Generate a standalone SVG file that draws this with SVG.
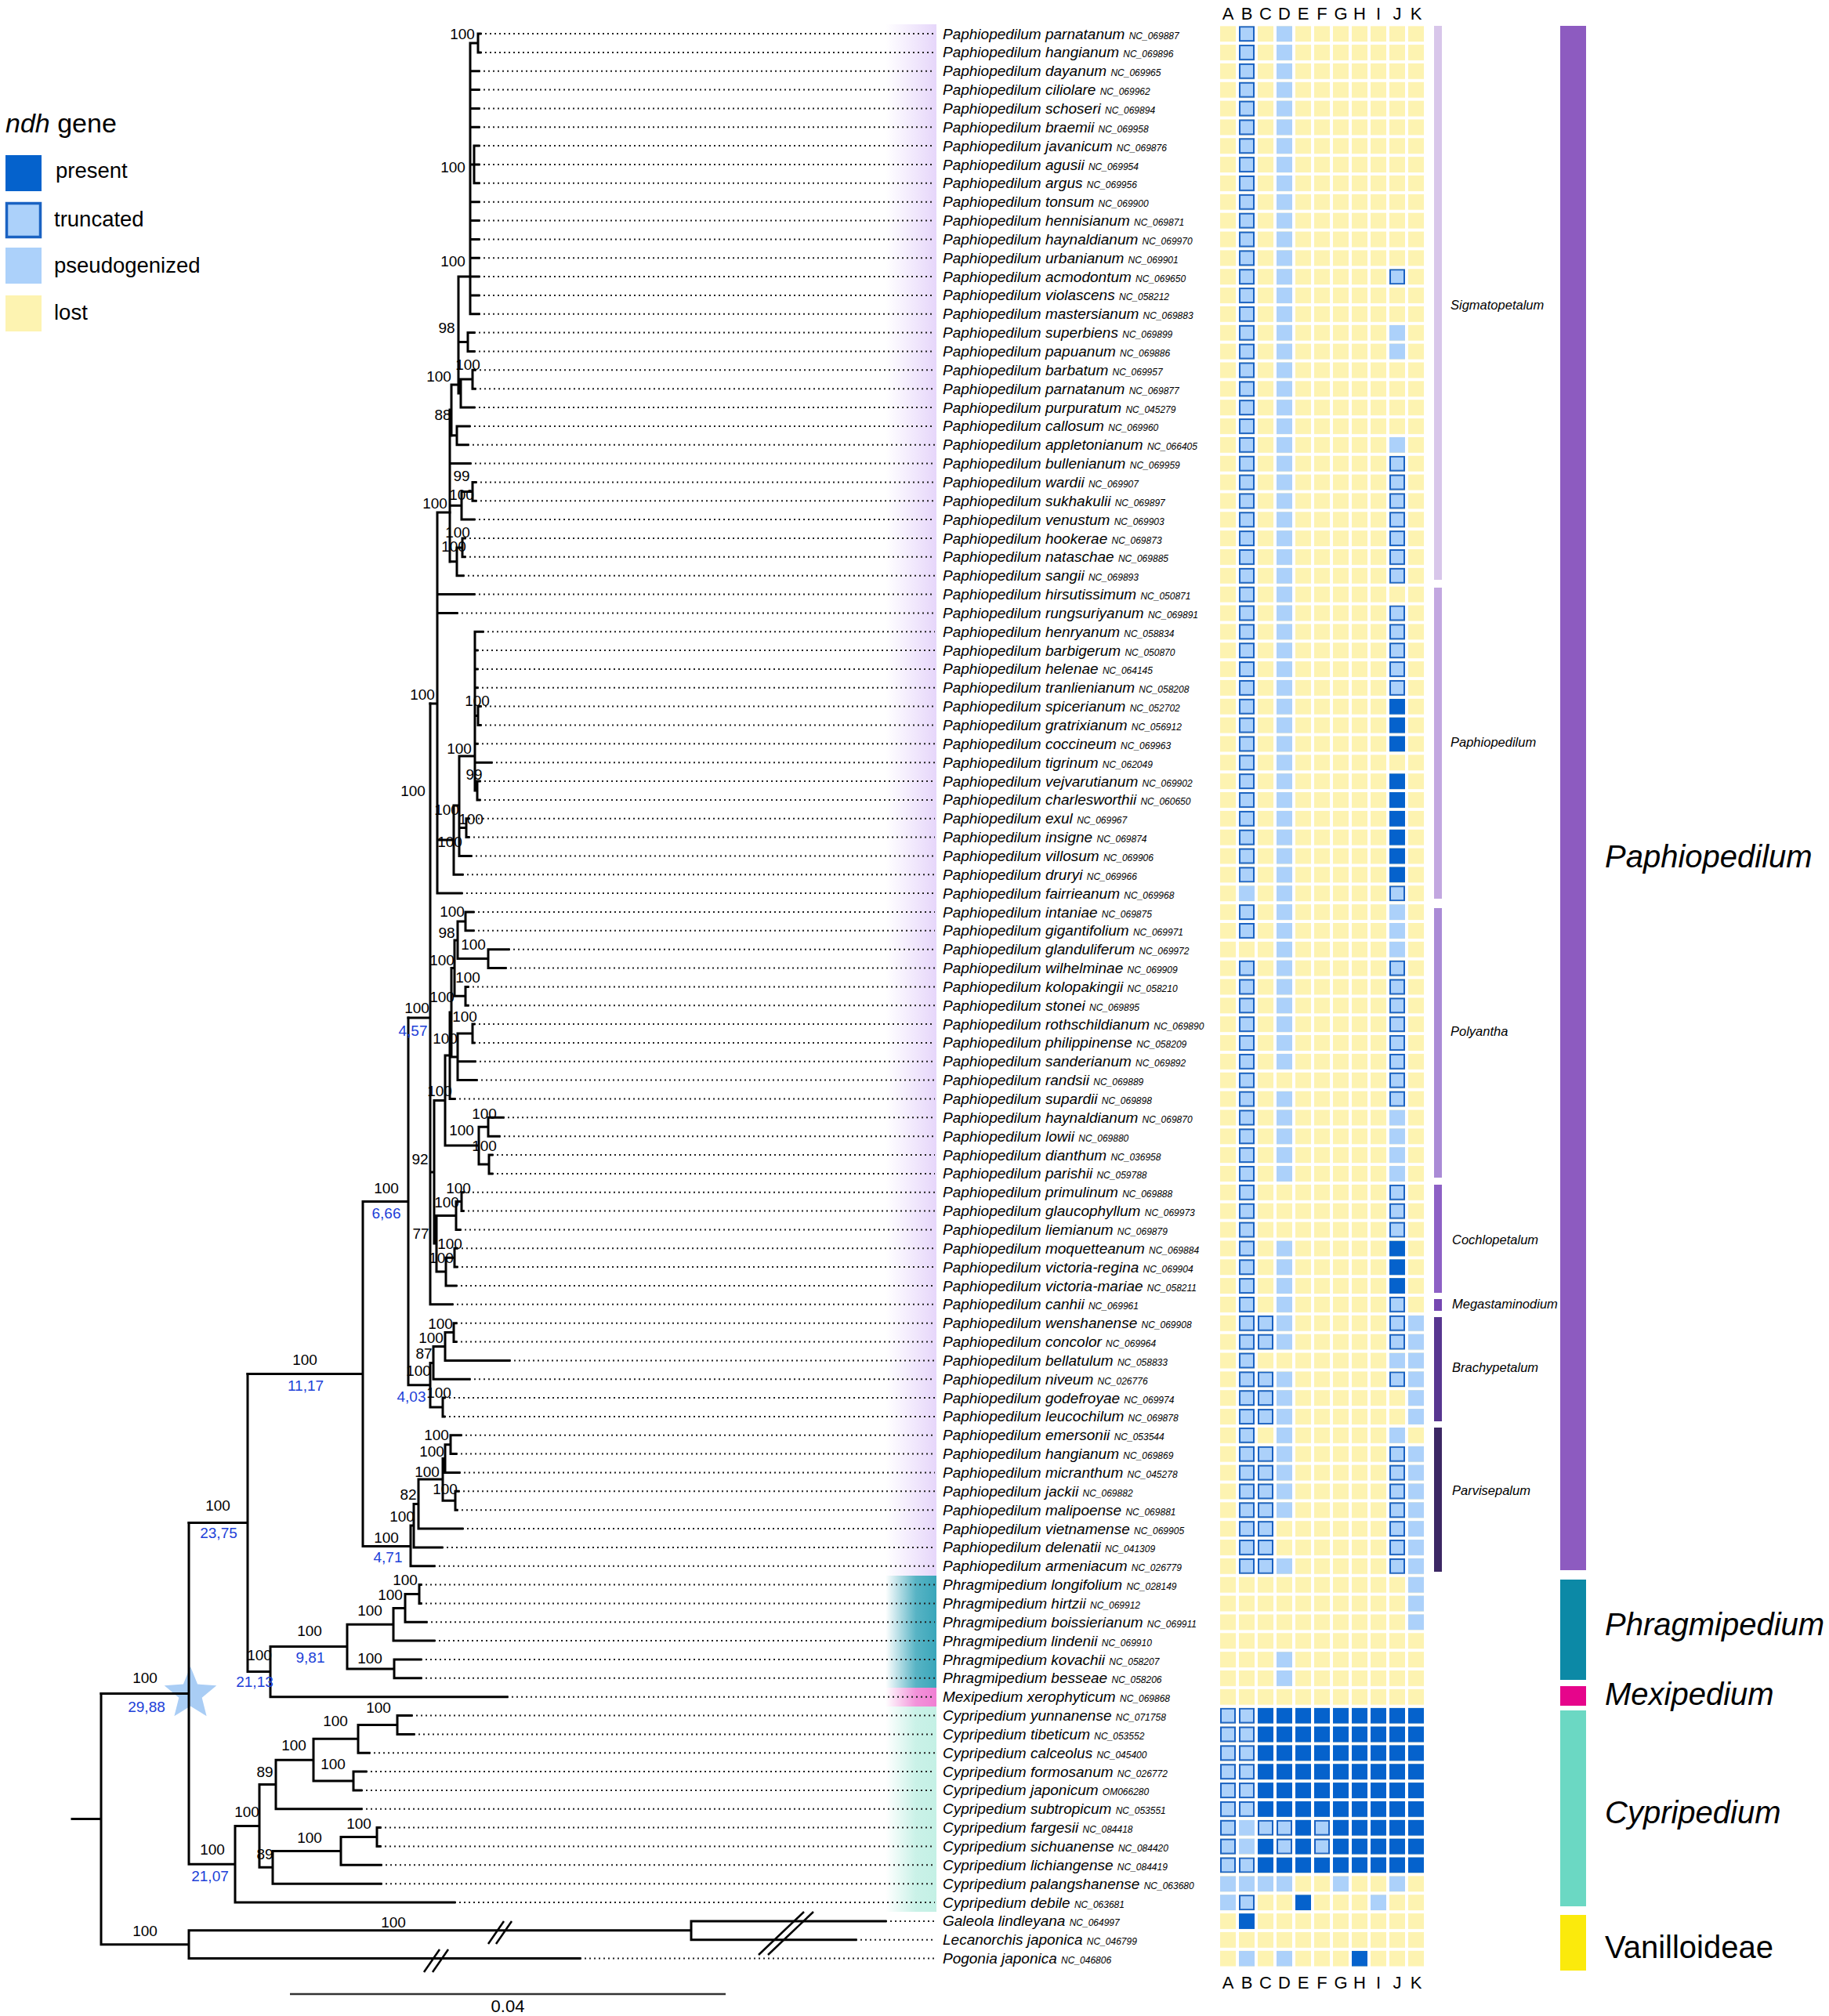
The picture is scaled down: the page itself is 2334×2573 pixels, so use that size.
<svg xmlns="http://www.w3.org/2000/svg" width="2334" height="2573" viewBox="0 0 2334 2573">
<style>
text{font-family:"Liberation Sans",Arial,sans-serif;fill:#000}
.br{fill:none;stroke:#000;stroke-width:3;stroke-linecap:square}
.dt{fill:none;stroke:#222;stroke-width:2;stroke-dasharray:2 4}
.bk{fill:none;stroke:#000;stroke-width:2.5}
.tx{font-size:19px;font-style:italic}
.ac{font-size:12px}
.bs{font-size:19px;text-anchor:middle;fill:#000}
.bl{fill:#2040d8}
.hd{font-size:22px;text-anchor:middle}
.sc{font-size:16.5px;font-style:italic}
.gn{font-size:40px;font-style:italic}
.lg{font-size:27.5px}
</style>
<defs>
<pattern id="pY" x="1557" y="33.2" width="24" height="23.85" patternUnits="userSpaceOnUse"><rect width="20" height="20" fill="#fdf3b1"/></pattern>
<pattern id="pP" x="1557" y="33.2" width="24" height="23.85" patternUnits="userSpaceOnUse"><rect width="20" height="20" fill="#acd1fa"/></pattern>
<pattern id="pD" x="1557" y="33.2" width="24" height="23.85" patternUnits="userSpaceOnUse"><rect width="20" height="20" fill="#0562cc"/></pattern>
<pattern id="pT" x="1557" y="33.2" width="24" height="23.85" patternUnits="userSpaceOnUse"><rect x="1" y="1" width="18" height="18" fill="#acd1fa" stroke="#1a62c2" stroke-width="2"/></pattern>
<linearGradient id="gPa" x1="0" y1="0" x2="1" y2="0"><stop offset="0" stop-color="#e6d6fa" stop-opacity="0"/><stop offset="1" stop-color="#e6d6fa"/></linearGradient>
<linearGradient id="gPh" x1="0" y1="0" x2="1" y2="0"><stop offset="0" stop-color="#3aa6ba" stop-opacity="0"/><stop offset="0.6" stop-color="#3aa6ba" stop-opacity="0.85"/><stop offset="1" stop-color="#3aa6ba"/></linearGradient>
<linearGradient id="gMe" x1="0" y1="0" x2="1" y2="0"><stop offset="0" stop-color="#f07fd3" stop-opacity="0"/><stop offset="0.6" stop-color="#f07fd3" stop-opacity="0.85"/><stop offset="1" stop-color="#f07fd3"/></linearGradient>
<linearGradient id="gCy" x1="0" y1="0" x2="1" y2="0"><stop offset="0" stop-color="#c4f0e5" stop-opacity="0"/><stop offset="0.6" stop-color="#c4f0e5" stop-opacity="0.9"/><stop offset="1" stop-color="#c4f0e5"/></linearGradient>
</defs>
<rect width="2334" height="2573" fill="#fff"/>

<g id="legend">
<text x="7" y="169" style="font-size:34px"><tspan font-style="italic">ndh</tspan> gene</text>
<rect x="7" y="198" width="46" height="46" fill="#0562cc"/>
<rect x="8.5" y="259.5" width="43" height="43" fill="#acd1fa" stroke="#1a62c2" stroke-width="3.5"/>
<rect x="7" y="316" width="46" height="46" fill="#acd1fa"/>
<rect x="7" y="377" width="46" height="46" fill="#fdf3b1"/>
<text class="lg" x="71" y="227">present</text>
<text class="lg" x="69" y="289">truncated</text>
<text class="lg" x="69" y="348">pseudogenized</text>
<text class="lg" x="69" y="408">lost</text>
</g>

<g id="bands">
<rect x="1130" y="31" width="65" height="1980" fill="url(#gPa)"/>
<rect x="1130" y="2011" width="65" height="143" fill="url(#gPh)"/>
<rect x="1130" y="2154" width="65" height="24" fill="url(#gMe)"/>
<rect x="1130" y="2178" width="65" height="262" fill="url(#gCy)"/>
</g>

<polygon id="star" points="243,2127 252.1,2149.5 276.3,2151.2 257.7,2166.8 263.6,2190.3 243,2177.5 222.4,2190.3 228.3,2166.8 209.7,2151.2 233.9,2149.5" fill="#a9cdf5"/>

<g id="connectors">
<path class="dt" d="M613 43H1193M613 66.9H1193M611 90.7H1193M611 114.6H1193M611 138.4H1193M611 162.3H1193M611 186.1H1193M611 210H1193M611 233.8H1193M611 257.7H1193M611 281.5H1193M611 305.4H1193M611 329.2H1193M611 353.1H1193M611 376.9H1193M611 400.8H1193M605 424.6H1193M605 448.5H1193M606 472.3H1193M606 496.2H1193M605 520H1193M599 543.9H1193M597 567.7H1193M600 591.6H1193M607 615.4H1193M607 639.3H1193M605 663.1H1193M593 687H1193M593 710.8H1193M591 734.7H1193M605 758.5H1193M583 782.4H1193M616 806.2H1193M609 830.1H1193M609 853.9H1193M609 877.8H1193M613 901.6H1193M613 925.5H1193M609 949.3H1193M627 973.2H1193M612 997H1193M612 1020.9H1193M598 1044.7H1193M598 1068.6H1193M601 1092.4H1193M590 1116.3H1193M589 1140.1H1193M604 1164H1193M604 1187.8H1193M649 1211.7H1193M645 1235.5H1193M597 1259.4H1193M597 1283.2H1193M605 1307.1H1193M605 1330.9H1193M606 1354.8H1193M608 1378.6H1193M580 1402.5H1193M642 1426.3H1193M637 1450.2H1193M628 1474H1193M628 1497.9H1193M591 1521.7H1193M591 1545.6H1193M587 1569.4H1193M583 1593.3H1193M583 1617.1H1193M582 1641H1193M577 1664.8H1193M582 1688.7H1193M582 1712.5H1193M650 1736.4H1193M599 1760.2H1193M567 1784.1H1193M567 1807.9H1193M588 1831.8H1193M582 1855.6H1193M586 1879.5H1193M585 1903.3H1193M583 1927.2H1193M590 1951H1193M564 1974.9H1193M554 1998.7H1193M537 2022.6H1193M537 2046.4H1193M544 2070.3H1193M554 2094.1H1193M537 2118H1193M537 2141.8H1193M647 2165.7H1193M525 2189.5H1193M528 2213.4H1193M471 2237.2H1193M467 2261.1H1193M461 2284.9H1193M461 2308.8H1193M485 2332.6H1193M485 2356.5H1193M486 2380.3H1193M486 2404.2H1193M580 2428H1193M1130 2451.9H1193M1092 2475.7H1193M740 2499.6H1193"/>
<path id="sigmatopetalum-branches" class="br" d="M610 43V66.9M610 43H613M610 66.9H613M600 55H610M600 55V400.8M600 90.7H611M600 114.6H611M600 138.4H611M600 162.3H611M600 210H605M600 257.7H611M600 281.5H611M600 305.4H611M600 329.2H611M600 353.1H611M600 376.9H611M600 400.8H611M605 186.1V233.8M605 186.1H611M605 210H611M605 233.8H611M585 353H600M585 353V502M585 436.5H597M585 502H588M597 424.6V448.5M597 424.6H605M597 448.5H605M588 484V520M588 484H603M588 520H605M603 472.3V496.2M603 472.3H606M603 496.2H606M576 491V556M576 491H585M576 555.8H583M583 543.9V567.7M583 543.9H599M583 567.7H597M574 523V717M574 523H576M574 591.6H600M574 645.2H589M574 716.8H583M589 627.4V663.1M589 627.4H603M589 663.1H605M603 615.4V639.3M603 615.4H607M603 639.3H607M583 698.9V734.7M583 698.9H590M583 734.7H591M590 687V710.8M590 687H593M590 710.8H593"/>
<path id="paphiopedilum-section-branches" class="br" d="M558 654V1140.1M558 654H574M558 758.5H605M558 782.4H583M558 1072H579M558 1140.1H589M549 898H558M606 806.2V1009M606 806.2H616M606 830.1H609M606 853.9H609M606 877.8H609M606 913.6H610M606 949.3H609M606 973.2H627M606 1009H609M586 965H606M610 901.6V925.5M610 901.6H613M610 925.5H613M609 997V1020.9M609 997H612M609 1020.9H612M586 965V1092.4M586 1056.6H595M586 1092.4H601M595 1044.7V1068.6M595 1044.7H598M595 1068.6H598M579 1028V1116.3M579 1028H586M579 1116.3H590"/>
<path id="polyantha-cochlopetalum-branches" class="br" d="M549 898V1664.8M549 1496H554M549 1664.8H577M521 1299H549M554 1404.5V1587M554 1404.5H568M554 1587H557M568 1347V1462M568 1347H574M568 1462H611M574 1292V1402.5M574 1292H576M574 1402.5H580M576 1235.6V1349M576 1235.6H580M576 1349H584M580 1200V1271.3M580 1200H584M580 1271.3H594M584 1176V1223.6M584 1176H594M584 1223.6H623M594 1164V1187.8M594 1164H604M594 1187.8H604M623 1211.7V1235.5M623 1211.7H649M623 1235.5H645M594 1259.4V1283.2M594 1259.4H597M594 1283.2H597M584 1319V1378.6M584 1319H603M584 1354.8H606M584 1378.6H608M603 1307.1V1330.9M603 1307.1H605M603 1330.9H605M611 1438.2V1486M611 1438.2H623M611 1486H624M623 1426.3V1450.2M623 1426.3H642M623 1450.2H637M624 1474V1497.9M624 1474H628M624 1497.9H628M557 1551.5V1623M557 1551.5H582M557 1623H569M582 1533.6V1569.4M582 1533.6H589M582 1569.4H587M589 1521.7V1545.6M589 1521.7H591M589 1545.6H591M569 1605.2V1641M569 1605.2H580M569 1641H582M580 1593.3V1617.1M580 1593.3H583M580 1617.1H583"/>
<path id="brachypetalum-parvisepalum-branches" class="br" d="M521 1299V1767.7M521 1767.7H549M463 1533.5H521M549 1739.4V1796M549 1739.4H553M549 1796H565M553 1718.5V1760.2M553 1718.5H568M553 1760.2H599M568 1700.6V1736.4M568 1700.6H579M568 1736.4H650M579 1688.7V1712.5M579 1688.7H582M579 1712.5H582M565 1784.1V1807.9M565 1784.1H567M565 1807.9H567M463 1533.5V1973.4M463 1973.4H524M316 1753.5H463M524 1947V1998.7M524 1947H528M524 1998.7H554M528 1919.5V1974.9M528 1919.5H534M528 1974.9H564M534 1888V1951M534 1888H565M534 1951H590M565 1861.6V1915.3M565 1861.6H568M565 1915.3H581M568 1843.7V1879.5M568 1843.7H575M568 1879.5H586M575 1831.8V1855.6M575 1831.8H588M575 1855.6H582M581 1903.3V1927.2M581 1903.3H585M581 1927.2H583"/>
<path id="phragmipedium-mexipedium-branches" class="br" d="M316 1753.5V2133.6M316 2133.6H345M241 1943.6H316M345 2101.6V2165.7M345 2101.6H443M345 2165.7H647M443 2073.3V2129.9M443 2073.3H502M443 2129.9H503M502 2052.4V2094.1M502 2052.4H517M502 2094.1H554M517 2034.5V2070.3M517 2034.5H535M517 2070.3H544M535 2022.6V2046.4M535 2022.6H537M535 2046.4H537M503 2118V2141.8M503 2118H537M503 2141.8H537"/>
<path id="cypripedium-branches" class="br" d="M241 1943.6V2379.2M241 2379.2H300M129 2161.4H241M300 2330.4V2428M300 2330.4H331M300 2428H580M331 2277.5V2383.3M331 2277.5H352M331 2383.3H348M352 2246.2V2308.8M352 2246.2H400M352 2308.8H461M400 2219.3V2273M400 2219.3H457M400 2273H451M457 2201.5V2237.2M457 2201.5H507M457 2237.2H471M507 2189.5V2213.4M507 2189.5H525M507 2213.4H528M451 2261.1V2284.9M451 2261.1H467M451 2284.9H461M348 2362.4V2404.2M348 2362.4H435M348 2404.2H486M435 2344.6V2380.3M435 2344.6H481M435 2380.3H486M481 2332.6V2356.5M481 2332.6H485M481 2356.5H485"/>
<path id="root-outgroup-branches" class="br" d="M129 2161.4V2481.7M92 2321.6H129M129 2481.7H241M241 2463.8V2499.6M241 2463.8H882M241 2499.6H740M882 2451.9V2475.7M882 2451.9H1130M882 2475.7H1092"/>
<path id="breaks" class="bk" d="M623 2481L643 2452M633 2481L653 2452M541 2517L561 2488M552 2517L572 2488M968 2495L1026 2440M980 2495L1038 2440"/>
</g>

<g id="support">
<text class="bs" x="590" y="50">100</text>
<text class="bs" x="578" y="220">100</text>
<text class="bs" x="578" y="340">100</text>
<text class="bs" x="570" y="425">98</text>
<text class="bs" x="560" y="487">100</text>
<text class="bs" x="597" y="472">100</text>
<text class="bs" x="565" y="536">88</text>
<text class="bs" x="589" y="614">99</text>
<text class="bs" x="589" y="638">100</text>
<text class="bs" x="555" y="649">100</text>
<text class="bs" x="584" y="686">100</text>
<text class="bs" x="579" y="704">100</text>
<text class="bs" x="539" y="893">100</text>
<text class="bs" x="609" y="901">100</text>
<text class="bs" x="586" y="962">100</text>
<text class="bs" x="605" y="995">99</text>
<text class="bs" x="527" y="1016">100</text>
<text class="bs" x="570" y="1040">100</text>
<text class="bs" x="601" y="1052">100</text>
<text class="bs" x="574" y="1081">100</text>
<text class="bs" x="577" y="1170">100</text>
<text class="bs" x="570" y="1197">98</text>
<text class="bs" x="604" y="1212">100</text>
<text class="bs" x="564" y="1232">100</text>
<text class="bs" x="597" y="1254">100</text>
<text class="bs" x="564" y="1279">100</text>
<text class="bs" x="593" y="1304">100</text>
<text class="bs" x="532" y="1293">100</text>
<text class="bs bl" x="527" y="1322">4,57</text>
<text class="bs" x="568" y="1332">100</text>
<text class="bs" x="561" y="1399">100</text>
<text class="bs" x="618" y="1428">100</text>
<text class="bs" x="589" y="1449">100</text>
<text class="bs" x="618" y="1469">100</text>
<text class="bs" x="536" y="1486">92</text>
<text class="bs" x="493" y="1523">100</text>
<text class="bs bl" x="493" y="1555">6,66</text>
<text class="bs" x="585" y="1523">100</text>
<text class="bs" x="570" y="1541">100</text>
<text class="bs" x="537" y="1581">77</text>
<text class="bs" x="574" y="1594">100</text>
<text class="bs" x="563" y="1612">100</text>
<text class="bs" x="562" y="1696">100</text>
<text class="bs" x="550" y="1714">100</text>
<text class="bs" x="541" y="1734">87</text>
<text class="bs" x="534" y="1756">100</text>
<text class="bs bl" x="525" y="1789">4,03</text>
<text class="bs" x="560" y="1784">100</text>
<text class="bs" x="389" y="1742">100</text>
<text class="bs bl" x="390" y="1775">11,17</text>
<text class="bs" x="557" y="1838">100</text>
<text class="bs" x="551" y="1859">100</text>
<text class="bs" x="545" y="1885">100</text>
<text class="bs" x="568" y="1907">100</text>
<text class="bs" x="521" y="1914">82</text>
<text class="bs" x="513" y="1942">100</text>
<text class="bs" x="493" y="1969">100</text>
<text class="bs bl" x="495" y="1994">4,71</text>
<text class="bs" x="517" y="2023">100</text>
<text class="bs" x="498" y="2042">100</text>
<text class="bs" x="472" y="2062">100</text>
<text class="bs" x="472" y="2123">100</text>
<text class="bs" x="395" y="2088">100</text>
<text class="bs bl" x="396" y="2122">9,81</text>
<text class="bs" x="331" y="2119">100</text>
<text class="bs bl" x="325" y="2153">21,13</text>
<text class="bs" x="278" y="1928">100</text>
<text class="bs bl" x="279" y="1963">23,75</text>
<text class="bs" x="185" y="2148">100</text>
<text class="bs bl" x="187" y="2185">29,88</text>
<text class="bs" x="483" y="2186">100</text>
<text class="bs" x="428" y="2203">100</text>
<text class="bs" x="425" y="2258">100</text>
<text class="bs" x="375" y="2234">100</text>
<text class="bs" x="338" y="2268">89</text>
<text class="bs" x="458" y="2334">100</text>
<text class="bs" x="395" y="2352">100</text>
<text class="bs" x="338" y="2373">89</text>
<text class="bs" x="315" y="2319">100</text>
<text class="bs" x="271" y="2367">100</text>
<text class="bs bl" x="268" y="2401">21,07</text>
<text class="bs" x="185" y="2471">100</text>
<text class="bs" x="502" y="2460">100</text>
</g>

<g id="scalebar">
<path d="M370 2545H926" stroke="#333" stroke-width="2.5"/>
<text x="648" y="2568" style="font-size:22px" text-anchor="middle">0.04</text>
</g>

<g id="taxa">
<text id="t1" class="tx" x="1203" y="49.5">Paphiopedilum parnatanum <tspan class="ac">NC_069887</tspan></text>
<text id="t2" class="tx" x="1203" y="73.4">Paphiopedilum hangianum <tspan class="ac">NC_069896</tspan></text>
<text id="t3" class="tx" x="1203" y="97.2">Paphiopedilum dayanum <tspan class="ac">NC_069965</tspan></text>
<text id="t4" class="tx" x="1203" y="121.1">Paphiopedilum ciliolare <tspan class="ac">NC_069962</tspan></text>
<text id="t5" class="tx" x="1203" y="144.9">Paphiopedilum schoseri <tspan class="ac">NC_069894</tspan></text>
<text id="t6" class="tx" x="1203" y="168.8">Paphiopedilum braemii <tspan class="ac">NC_069958</tspan></text>
<text id="t7" class="tx" x="1203" y="192.6">Paphiopedilum javanicum <tspan class="ac">NC_069876</tspan></text>
<text id="t8" class="tx" x="1203" y="216.5">Paphiopedilum agusii <tspan class="ac">NC_069954</tspan></text>
<text id="t9" class="tx" x="1203" y="240.3">Paphiopedilum argus <tspan class="ac">NC_069956</tspan></text>
<text id="t10" class="tx" x="1203" y="264.2">Paphiopedilum tonsum <tspan class="ac">NC_069900</tspan></text>
<text id="t11" class="tx" x="1203" y="288">Paphiopedilum hennisianum <tspan class="ac">NC_069871</tspan></text>
<text id="t12" class="tx" x="1203" y="311.9">Paphiopedilum haynaldianum <tspan class="ac">NC_069970</tspan></text>
<text id="t13" class="tx" x="1203" y="335.7">Paphiopedilum urbanianum <tspan class="ac">NC_069901</tspan></text>
<text id="t14" class="tx" x="1203" y="359.6">Paphiopedilum acmodontum <tspan class="ac">NC_069650</tspan></text>
<text id="t15" class="tx" x="1203" y="383.4">Paphiopedilum violascens <tspan class="ac">NC_058212</tspan></text>
<text id="t16" class="tx" x="1203" y="407.3">Paphiopedilum mastersianum <tspan class="ac">NC_069883</tspan></text>
<text id="t17" class="tx" x="1203" y="431.1">Paphiopedilum superbiens <tspan class="ac">NC_069899</tspan></text>
<text id="t18" class="tx" x="1203" y="455">Paphiopedilum papuanum <tspan class="ac">NC_069886</tspan></text>
<text id="t19" class="tx" x="1203" y="478.8">Paphiopedilum barbatum <tspan class="ac">NC_069957</tspan></text>
<text id="t20" class="tx" x="1203" y="502.7">Paphiopedilum parnatanum <tspan class="ac">NC_069877</tspan></text>
<text id="t21" class="tx" x="1203" y="526.5">Paphiopedilum purpuratum <tspan class="ac">NC_045279</tspan></text>
<text id="t22" class="tx" x="1203" y="550.4">Paphiopedilum callosum <tspan class="ac">NC_069960</tspan></text>
<text id="t23" class="tx" x="1203" y="574.2">Paphiopedilum appletonianum <tspan class="ac">NC_066405</tspan></text>
<text id="t24" class="tx" x="1203" y="598.1">Paphiopedilum bullenianum <tspan class="ac">NC_069959</tspan></text>
<text id="t25" class="tx" x="1203" y="621.9">Paphiopedilum wardii <tspan class="ac">NC_069907</tspan></text>
<text id="t26" class="tx" x="1203" y="645.8">Paphiopedilum sukhakulii <tspan class="ac">NC_069897</tspan></text>
<text id="t27" class="tx" x="1203" y="669.6">Paphiopedilum venustum <tspan class="ac">NC_069903</tspan></text>
<text id="t28" class="tx" x="1203" y="693.5">Paphiopedilum hookerae <tspan class="ac">NC_069873</tspan></text>
<text id="t29" class="tx" x="1203" y="717.3">Paphiopedilum nataschae <tspan class="ac">NC_069885</tspan></text>
<text id="t30" class="tx" x="1203" y="741.2">Paphiopedilum sangii <tspan class="ac">NC_069893</tspan></text>
<text id="t31" class="tx" x="1203" y="765">Paphiopedilum hirsutissimum <tspan class="ac">NC_050871</tspan></text>
<text id="t32" class="tx" x="1203" y="788.9">Paphiopedilum rungsuriyanum <tspan class="ac">NC_069891</tspan></text>
<text id="t33" class="tx" x="1203" y="812.7">Paphiopedilum henryanum <tspan class="ac">NC_058834</tspan></text>
<text id="t34" class="tx" x="1203" y="836.6">Paphiopedilum barbigerum <tspan class="ac">NC_050870</tspan></text>
<text id="t35" class="tx" x="1203" y="860.4">Paphiopedilum helenae <tspan class="ac">NC_064145</tspan></text>
<text id="t36" class="tx" x="1203" y="884.3">Paphiopedilum tranlienianum <tspan class="ac">NC_058208</tspan></text>
<text id="t37" class="tx" x="1203" y="908.1">Paphiopedilum spicerianum <tspan class="ac">NC_052702</tspan></text>
<text id="t38" class="tx" x="1203" y="932">Paphiopedilum gratrixianum <tspan class="ac">NC_056912</tspan></text>
<text id="t39" class="tx" x="1203" y="955.8">Paphiopedilum coccineum <tspan class="ac">NC_069963</tspan></text>
<text id="t40" class="tx" x="1203" y="979.7">Paphiopedilum tigrinum <tspan class="ac">NC_062049</tspan></text>
<text id="t41" class="tx" x="1203" y="1003.5">Paphiopedilum vejvarutianum <tspan class="ac">NC_069902</tspan></text>
<text id="t42" class="tx" x="1203" y="1027.4">Paphiopedilum charlesworthii <tspan class="ac">NC_060650</tspan></text>
<text id="t43" class="tx" x="1203" y="1051.2">Paphiopedilum exul <tspan class="ac">NC_069967</tspan></text>
<text id="t44" class="tx" x="1203" y="1075.1">Paphiopedilum insigne <tspan class="ac">NC_069874</tspan></text>
<text id="t45" class="tx" x="1203" y="1098.9">Paphiopedilum villosum <tspan class="ac">NC_069906</tspan></text>
<text id="t46" class="tx" x="1203" y="1122.8">Paphiopedilum druryi <tspan class="ac">NC_069966</tspan></text>
<text id="t47" class="tx" x="1203" y="1146.6">Paphiopedilum fairrieanum <tspan class="ac">NC_069968</tspan></text>
<text id="t48" class="tx" x="1203" y="1170.5">Paphiopedilum intaniae <tspan class="ac">NC_069875</tspan></text>
<text id="t49" class="tx" x="1203" y="1194.3">Paphiopedilum gigantifolium <tspan class="ac">NC_069971</tspan></text>
<text id="t50" class="tx" x="1203" y="1218.2">Paphiopedilum glanduliferum <tspan class="ac">NC_069972</tspan></text>
<text id="t51" class="tx" x="1203" y="1242">Paphiopedilum wilhelminae <tspan class="ac">NC_069909</tspan></text>
<text id="t52" class="tx" x="1203" y="1265.9">Paphiopedilum kolopakingii <tspan class="ac">NC_058210</tspan></text>
<text id="t53" class="tx" x="1203" y="1289.7">Paphiopedilum stonei <tspan class="ac">NC_069895</tspan></text>
<text id="t54" class="tx" x="1203" y="1313.6">Paphiopedilum rothschildianum <tspan class="ac">NC_069890</tspan></text>
<text id="t55" class="tx" x="1203" y="1337.4">Paphiopedilum philippinense <tspan class="ac">NC_058209</tspan></text>
<text id="t56" class="tx" x="1203" y="1361.3">Paphiopedilum sanderianum <tspan class="ac">NC_069892</tspan></text>
<text id="t57" class="tx" x="1203" y="1385.1">Paphiopedilum randsii <tspan class="ac">NC_069889</tspan></text>
<text id="t58" class="tx" x="1203" y="1409">Paphiopedilum supardii <tspan class="ac">NC_069898</tspan></text>
<text id="t59" class="tx" x="1203" y="1432.8">Paphiopedilum haynaldianum <tspan class="ac">NC_069870</tspan></text>
<text id="t60" class="tx" x="1203" y="1456.7">Paphiopedilum lowii <tspan class="ac">NC_069880</tspan></text>
<text id="t61" class="tx" x="1203" y="1480.5">Paphiopedilum dianthum <tspan class="ac">NC_036958</tspan></text>
<text id="t62" class="tx" x="1203" y="1504.4">Paphiopedilum parishii <tspan class="ac">NC_059788</tspan></text>
<text id="t63" class="tx" x="1203" y="1528.2">Paphiopedilum primulinum <tspan class="ac">NC_069888</tspan></text>
<text id="t64" class="tx" x="1203" y="1552.1">Paphiopedilum glaucophyllum <tspan class="ac">NC_069973</tspan></text>
<text id="t65" class="tx" x="1203" y="1575.9">Paphiopedilum liemianum <tspan class="ac">NC_069879</tspan></text>
<text id="t66" class="tx" x="1203" y="1599.8">Paphiopedilum moquetteanum <tspan class="ac">NC_069884</tspan></text>
<text id="t67" class="tx" x="1203" y="1623.6">Paphiopedilum victoria-regina <tspan class="ac">NC_069904</tspan></text>
<text id="t68" class="tx" x="1203" y="1647.5">Paphiopedilum victoria-mariae <tspan class="ac">NC_058211</tspan></text>
<text id="t69" class="tx" x="1203" y="1671.3">Paphiopedilum canhii <tspan class="ac">NC_069961</tspan></text>
<text id="t70" class="tx" x="1203" y="1695.2">Paphiopedilum wenshanense <tspan class="ac">NC_069908</tspan></text>
<text id="t71" class="tx" x="1203" y="1719">Paphiopedilum concolor <tspan class="ac">NC_069964</tspan></text>
<text id="t72" class="tx" x="1203" y="1742.9">Paphiopedilum bellatulum <tspan class="ac">NC_058833</tspan></text>
<text id="t73" class="tx" x="1203" y="1766.7">Paphiopedilum niveum <tspan class="ac">NC_026776</tspan></text>
<text id="t74" class="tx" x="1203" y="1790.6">Paphiopedilum godefroyae <tspan class="ac">NC_069974</tspan></text>
<text id="t75" class="tx" x="1203" y="1814.4">Paphiopedilum leucochilum <tspan class="ac">NC_069878</tspan></text>
<text id="t76" class="tx" x="1203" y="1838.3">Paphiopedilum emersonii <tspan class="ac">NC_053544</tspan></text>
<text id="t77" class="tx" x="1203" y="1862.1">Paphiopedilum hangianum <tspan class="ac">NC_069869</tspan></text>
<text id="t78" class="tx" x="1203" y="1886">Paphiopedilum micranthum <tspan class="ac">NC_045278</tspan></text>
<text id="t79" class="tx" x="1203" y="1909.8">Paphiopedilum jackii <tspan class="ac">NC_069882</tspan></text>
<text id="t80" class="tx" x="1203" y="1933.7">Paphiopedilum malipoense <tspan class="ac">NC_069881</tspan></text>
<text id="t81" class="tx" x="1203" y="1957.5">Paphiopedilum vietnamense <tspan class="ac">NC_069905</tspan></text>
<text id="t82" class="tx" x="1203" y="1981.4">Paphiopedilum delenatii <tspan class="ac">NC_041309</tspan></text>
<text id="t83" class="tx" x="1203" y="2005.2">Paphiopedilum armeniacum <tspan class="ac">NC_026779</tspan></text>
<text id="t84" class="tx" x="1203" y="2029.1">Phragmipedium longifolium <tspan class="ac">NC_028149</tspan></text>
<text id="t85" class="tx" x="1203" y="2052.9">Phragmipedium hirtzii <tspan class="ac">NC_069912</tspan></text>
<text id="t86" class="tx" x="1203" y="2076.8">Phragmipedium boissierianum <tspan class="ac">NC_069911</tspan></text>
<text id="t87" class="tx" x="1203" y="2100.6">Phragmipedium lindenii <tspan class="ac">NC_069910</tspan></text>
<text id="t88" class="tx" x="1203" y="2124.5">Phragmipedium kovachii <tspan class="ac">NC_058207</tspan></text>
<text id="t89" class="tx" x="1203" y="2148.3">Phragmipedium besseae <tspan class="ac">NC_058206</tspan></text>
<text id="t90" class="tx" x="1203" y="2172.2">Mexipedium xerophyticum <tspan class="ac">NC_069868</tspan></text>
<text id="t91" class="tx" x="1203" y="2196">Cypripedium yunnanense <tspan class="ac">NC_071758</tspan></text>
<text id="t92" class="tx" x="1203" y="2219.9">Cypripedium tibeticum <tspan class="ac">NC_053552</tspan></text>
<text id="t93" class="tx" x="1203" y="2243.7">Cypripedium calceolus <tspan class="ac">NC_045400</tspan></text>
<text id="t94" class="tx" x="1203" y="2267.6">Cypripedium formosanum <tspan class="ac">NC_026772</tspan></text>
<text id="t95" class="tx" x="1203" y="2291.4">Cypripedium japonicum <tspan class="ac">OM066280</tspan></text>
<text id="t96" class="tx" x="1203" y="2315.3">Cypripedium subtropicum <tspan class="ac">NC_053551</tspan></text>
<text id="t97" class="tx" x="1203" y="2339.1">Cypripedium fargesii <tspan class="ac">NC_084418</tspan></text>
<text id="t98" class="tx" x="1203" y="2363">Cypripedium sichuanense <tspan class="ac">NC_084420</tspan></text>
<text id="t99" class="tx" x="1203" y="2386.8">Cypripedium lichiangense <tspan class="ac">NC_084419</tspan></text>
<text id="t100" class="tx" x="1203" y="2410.7">Cypripedium palangshanense <tspan class="ac">NC_063680</tspan></text>
<text id="t101" class="tx" x="1203" y="2434.5">Cypripedium debile <tspan class="ac">NC_063681</tspan></text>
<text id="t102" class="tx" x="1203" y="2458.4">Galeola lindleyana <tspan class="ac">NC_064997</tspan></text>
<text id="t103" class="tx" x="1203" y="2482.2">Lecanorchis japonica <tspan class="ac">NC_046799</tspan></text>
<text id="t104" class="tx" x="1203" y="2506.1">Pogonia japonica <tspan class="ac">NC_046806</tspan></text>
</g>

<g id="grid">
<rect x="1557" y="33.2" width="260" height="2476.6" fill="url(#pY)"/>
<rect x="1557" y="2179.7" width="20" height="210.8" fill="url(#pT)"/>
<rect x="1557" y="2394.4" width="20" height="43.8" fill="url(#pP)"/>
<rect x="1581" y="33.2" width="20" height="1093.3" fill="url(#pT)"/>
<rect x="1581" y="1130.3" width="20" height="20" fill="url(#pP)"/>
<rect x="1581" y="1154.2" width="20" height="43.8" fill="url(#pT)"/>
<rect x="1581" y="1225.7" width="20" height="783.2" fill="url(#pT)"/>
<rect x="1581" y="2179.7" width="20" height="139.3" fill="url(#pT)"/>
<rect x="1581" y="2322.8" width="20" height="43.9" fill="url(#pP)"/>
<rect x="1581" y="2370.5" width="20" height="20" fill="url(#pT)"/>
<rect x="1581" y="2394.4" width="20" height="20" fill="url(#pP)"/>
<rect x="1581" y="2418.2" width="20" height="20" fill="url(#pT)"/>
<rect x="1581" y="2442.1" width="20" height="20" fill="url(#pD)"/>
<rect x="1581" y="2489.8" width="20" height="20" fill="url(#pP)"/>
<rect x="1605" y="1678.9" width="20" height="43.8" fill="url(#pT)"/>
<rect x="1605" y="1750.4" width="20" height="67.7" fill="url(#pT)"/>
<rect x="1605" y="1845.8" width="20" height="163.1" fill="url(#pT)"/>
<rect x="1605" y="2179.7" width="20" height="139.3" fill="url(#pD)"/>
<rect x="1605" y="2322.8" width="20" height="20" fill="url(#pT)"/>
<rect x="1605" y="2346.7" width="20" height="43.8" fill="url(#pD)"/>
<rect x="1605" y="2394.4" width="20" height="20" fill="url(#pP)"/>
<rect x="1629" y="33.2" width="20" height="1331.8" fill="url(#pP)"/>
<rect x="1629" y="1392.7" width="20" height="115.4" fill="url(#pP)"/>
<rect x="1629" y="1583.5" width="20" height="139.2" fill="url(#pP)"/>
<rect x="1629" y="1750.4" width="20" height="187" fill="url(#pP)"/>
<rect x="1629" y="1988.9" width="20" height="20" fill="url(#pP)"/>
<rect x="1629" y="2108.2" width="20" height="43.8" fill="url(#pP)"/>
<rect x="1629" y="2179.7" width="20" height="139.3" fill="url(#pD)"/>
<rect x="1629" y="2322.8" width="20" height="43.9" fill="url(#pT)"/>
<rect x="1629" y="2370.5" width="20" height="20" fill="url(#pD)"/>
<rect x="1629" y="2394.4" width="20" height="20" fill="url(#pP)"/>
<rect x="1629" y="2489.8" width="20" height="20" fill="url(#pP)"/>
<rect x="1653" y="2179.7" width="20" height="210.8" fill="url(#pD)"/>
<rect x="1653" y="2418.2" width="20" height="20" fill="url(#pD)"/>
<rect x="1677" y="2179.7" width="20" height="139.3" fill="url(#pD)"/>
<rect x="1677" y="2322.8" width="20" height="43.9" fill="url(#pT)"/>
<rect x="1677" y="2370.5" width="20" height="20" fill="url(#pD)"/>
<rect x="1701" y="2179.7" width="20" height="210.8" fill="url(#pD)"/>
<rect x="1701" y="2394.4" width="20" height="20" fill="url(#pP)"/>
<rect x="1725" y="2179.7" width="20" height="210.8" fill="url(#pD)"/>
<rect x="1725" y="2489.8" width="20" height="20" fill="url(#pD)"/>
<rect x="1749" y="2179.7" width="20" height="210.8" fill="url(#pD)"/>
<rect x="1749" y="2418.2" width="20" height="20" fill="url(#pP)"/>
<rect x="1773" y="343.3" width="20" height="20" fill="url(#pT)"/>
<rect x="1773" y="414.8" width="20" height="43.9" fill="url(#pP)"/>
<rect x="1773" y="557.9" width="20" height="20" fill="url(#pP)"/>
<rect x="1773" y="581.8" width="20" height="163.1" fill="url(#pT)"/>
<rect x="1773" y="772.6" width="20" height="115.4" fill="url(#pT)"/>
<rect x="1773" y="891.8" width="20" height="67.7" fill="url(#pD)"/>
<rect x="1773" y="987.2" width="20" height="139.3" fill="url(#pD)"/>
<rect x="1773" y="1130.3" width="20" height="20" fill="url(#pT)"/>
<rect x="1773" y="1154.2" width="20" height="67.7" fill="url(#pP)"/>
<rect x="1773" y="1225.7" width="20" height="187" fill="url(#pT)"/>
<rect x="1773" y="1416.5" width="20" height="91.6" fill="url(#pP)"/>
<rect x="1773" y="1511.9" width="20" height="67.7" fill="url(#pT)"/>
<rect x="1773" y="1583.5" width="20" height="67.7" fill="url(#pD)"/>
<rect x="1773" y="1655" width="20" height="67.7" fill="url(#pT)"/>
<rect x="1773" y="1726.6" width="20" height="20" fill="url(#pP)"/>
<rect x="1773" y="1750.4" width="20" height="20" fill="url(#pT)"/>
<rect x="1773" y="1822" width="20" height="20" fill="url(#pP)"/>
<rect x="1773" y="1845.8" width="20" height="163.1" fill="url(#pT)"/>
<rect x="1773" y="2179.7" width="20" height="210.8" fill="url(#pD)"/>
<rect x="1773" y="2394.4" width="20" height="20" fill="url(#pP)"/>
<rect x="1797" y="1678.9" width="20" height="139.2" fill="url(#pP)"/>
<rect x="1797" y="1845.8" width="20" height="234.7" fill="url(#pP)"/>
<rect x="1797" y="2179.7" width="20" height="210.8" fill="url(#pD)"/>
</g>

<g id="columns">
<text class="hd" x="1567" y="25">A</text><text class="hd" x="1591" y="25">B</text><text class="hd" x="1615" y="25">C</text><text class="hd" x="1639" y="25">D</text><text class="hd" x="1663" y="25">E</text><text class="hd" x="1687" y="25">F</text><text class="hd" x="1711" y="25">G</text><text class="hd" x="1735" y="25">H</text><text class="hd" x="1759" y="25">I</text><text class="hd" x="1783" y="25">J</text><text class="hd" x="1807" y="25">K</text>
<text class="hd" x="1567" y="2538">A</text><text class="hd" x="1591" y="2538">B</text><text class="hd" x="1615" y="2538">C</text><text class="hd" x="1639" y="2538">D</text><text class="hd" x="1663" y="2538">E</text><text class="hd" x="1687" y="2538">F</text><text class="hd" x="1711" y="2538">G</text><text class="hd" x="1735" y="2538">H</text><text class="hd" x="1759" y="2538">I</text><text class="hd" x="1783" y="2538">J</text><text class="hd" x="1807" y="2538">K</text>
</g>

<g id="sections">
<rect x="1830" y="33" width="10" height="707" fill="#d8c6ea"/>
<rect x="1830" y="750" width="10" height="397" fill="#c2a7e0"/>
<rect x="1830" y="1159" width="10" height="344" fill="#aa8bd6"/>
<rect x="1830" y="1512" width="10" height="138" fill="#8d60c5"/>
<rect x="1830" y="1658" width="10" height="15" fill="#7547b1"/>
<rect x="1830" y="1681" width="10" height="133" fill="#583690"/>
<rect x="1830" y="1822" width="10" height="184" fill="#3c2764"/>
<text class="sc" x="1851" y="395">Sigmatopetalum</text>
<text class="sc" x="1851" y="953">Paphiopedilum</text>
<text class="sc" x="1851" y="1322">Polyantha</text>
<text class="sc" x="1853" y="1588">Cochlopetalum</text>
<text class="sc" x="1853" y="1670">Megastaminodium</text>
<text class="sc" x="1853" y="1751">Brachypetalum</text>
<text class="sc" x="1853" y="1908">Parvisepalum</text>
</g>

<g id="genera">
<rect x="1991" y="33" width="33" height="1971" fill="#8d5bc0"/>
<rect x="1991" y="2016" width="33" height="128" fill="#0c89a6"/>
<rect x="1991" y="2152" width="33" height="25" fill="#e6058b"/>
<rect x="1991" y="2183" width="33" height="250" fill="#6bd8c3"/>
<rect x="1991" y="2444" width="33" height="71" fill="#fbea0c"/>
<text class="gn" x="2048" y="1107">Paphiopedilum</text>
<text class="gn" x="2048" y="2087">Phragmipedium</text>
<text class="gn" x="2048" y="2176">Mexipedium</text>
<text class="gn" x="2048" y="2327">Cypripedium</text>
<text x="2048" y="2499" style="font-size:40px">Vanilloideae</text>
</g>
</svg>
